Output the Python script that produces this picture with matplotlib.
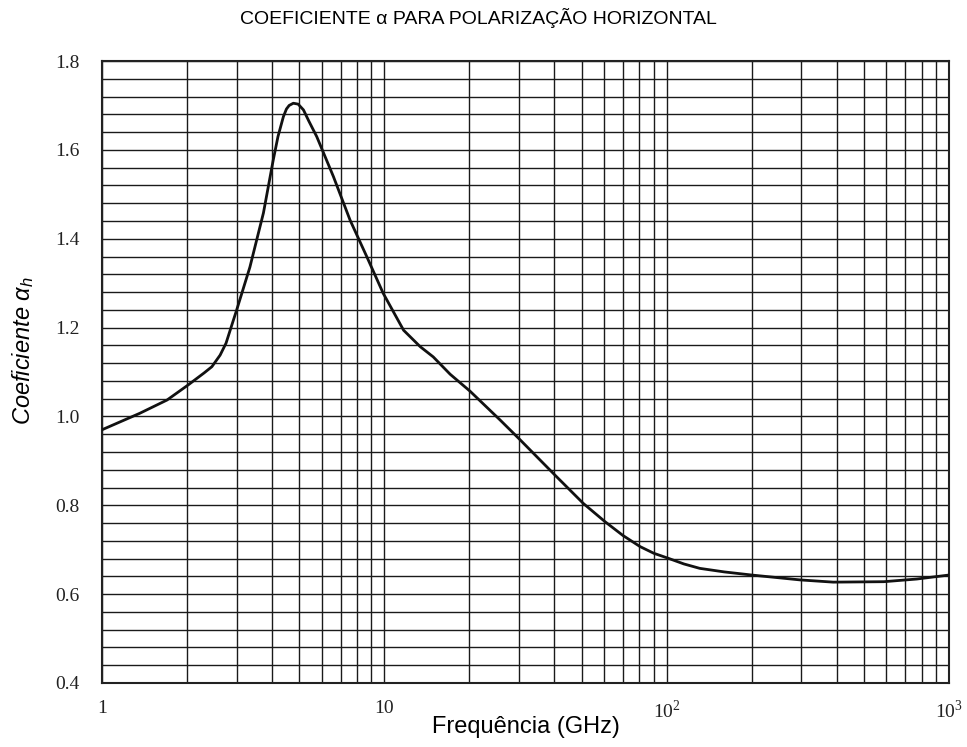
import matplotlib
matplotlib.use('Agg')
import matplotlib.pyplot as plt
from matplotlib.ticker import FixedLocator, NullFormatter

plt.rcParams['mathtext.fontset'] = 'custom'
plt.rcParams['mathtext.rm'] = 'Liberation Serif'
plt.rcParams['mathtext.it'] = 'Liberation Sans:italic'

# frequency (GHz) and alpha_h
freq = [1.0, 1.36, 1.7, 2.02, 2.3, 2.45, 2.62, 2.75, 2.88, 3.0, 3.34,
        3.73, 4.04, 4.2, 4.39, 4.5, 4.6, 4.76, 4.95, 5.17, 5.4, 5.76, 6.6,
        7.56, 8.66, 9.91, 11.7, 13.4, 14.9, 17.1, 20.1, 25.7, 30.3, 40.2,
        50.7, 60.5, 70, 80.5, 90, 101, 115, 131, 160, 200, 297, 389, 588,
        769, 1000]
alpha_h = [0.970, 1.007, 1.037, 1.071, 1.098, 1.112, 1.138, 1.165, 1.205,
           1.240, 1.336, 1.458, 1.577, 1.630, 1.675, 1.692, 1.700, 1.705,
           1.703, 1.690, 1.665, 1.630, 1.540, 1.442, 1.360, 1.277, 1.194,
           1.157, 1.134, 1.095, 1.057, 0.992, 0.947, 0.868, 0.804, 0.763,
           0.732, 0.707, 0.692, 0.681, 0.668, 0.658, 0.650, 0.643, 0.632,
           0.627, 0.628, 0.634, 0.643]

x_ticks = [1, 10, 100, 1000]
x_labels = ['1', '10', '$10^{2}$', '$10^{3}$']
y_ticks = [0.4, 0.6, 0.8, 1.0, 1.2, 1.4, 1.6, 1.8]
y_grid = [0.4 + 0.04 * i for i in range(36)]
x_grid = [m * 10 ** d for d in range(3) for m in range(1, 10)] + [1000]

fig = plt.figure(figsize=(9.67, 7.47), dpi=100)
ax = fig.add_axes([0.1055, 0.0857, 0.8759, 0.8326])

for xv in x_grid:
    ax.axvline(xv, color='#1a1a1a', lw=1.0, zorder=1)
for yv in y_grid:
    ax.axhline(yv, color='#1a1a1a', lw=1.0, zorder=1)

ax.plot(freq, alpha_h, color='#111111', lw=2.0, zorder=3)

ax.set_xscale('log')
ax.set_xlim(1, 1000)
ax.set_ylim(0.4, 1.8)
ax.xaxis.set_major_locator(FixedLocator(x_ticks))
ax.xaxis.set_minor_locator(FixedLocator([]))
ax.xaxis.set_minor_formatter(NullFormatter())
ax.set_xticklabels(x_labels)
ax.set_yticks(y_ticks)
ax.set_yticklabels(['%.1f' % v for v in y_ticks])
ax.tick_params(length=0, labelsize=14)
ax.tick_params(axis='y', pad=16)
ax.tick_params(axis='x', pad=12)
for lab in ax.get_xticklabels() + ax.get_yticklabels():
    lab.set_family('Liberation Serif')
    lab.set_color('#222222')
for sp in ax.spines.values():
    sp.set_linewidth(1.5)
    sp.set_color('#222222')

fig.text(0.495, 0.976, 'COEFICIENTE α PARA POLARIZAÇÃO HORIZONTAL',
         ha='center', va='center', fontsize=14, family='Liberation Sans')
fig.text(0.544, 0.027, 'Frequência (GHz)', ha='center', va='center',
         fontsize=17, family='Liberation Sans')
fig.text(0.024, 0.531, r'Coeficiente $\alpha_{h}$', ha='center', va='center',
         rotation=90, fontsize=17, family='Liberation Sans', style='italic')

fig.savefig('out.png', dpi=100, facecolor='white')
